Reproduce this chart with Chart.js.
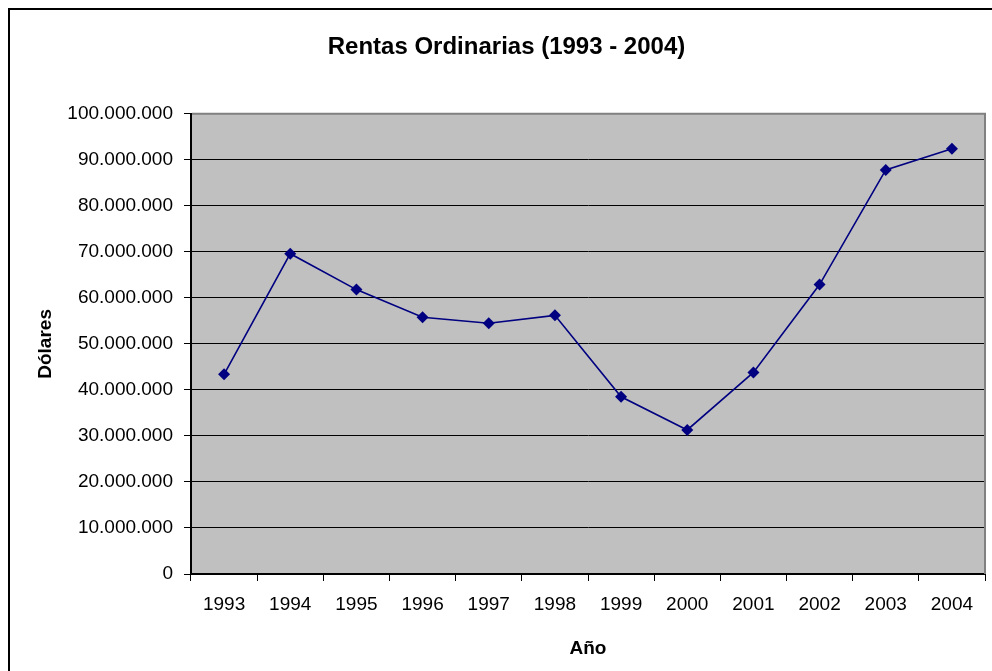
<!DOCTYPE html>
<html>
<head>
<meta charset="utf-8">
<script src="https://cdn.jsdelivr.net/npm/chart.js@4"></script>
<style>
  body { margin: 0; background: #fff; }
  canvas { display: block; }
</style>
</head>
<body>
<canvas id="chart" width="992" height="671"></canvas>
<script>
const years = ["1993", "1994", "1995", "1996", "1997", "1998", "1999", "2000", "2001", "2002", "2003", "2004"];
const rentas = [43400000, 69600000, 61800000, 55800000, 54500000, 56200000, 38500000, 31300000, 43800000, 62900000, 87800000, 92400000];
const yTicks = [0, 10000000, 20000000, 30000000, 40000000, 50000000, 60000000, 70000000, 80000000, 90000000, 100000000];

const FONT = '"Liberation Sans", Arial, sans-serif';

// 12.345.678 style
function miles(v) {
  return String(v).replace(/\B(?=(\d{3})+(?!\d))/g, ".");
}

// grey plot area, outer frame, grey top/right border
const excelLook = {
  id: "excelLook",
  beforeDraw(chart) {
    const { ctx, chartArea: a } = chart;
    ctx.save();
    ctx.fillStyle = "#c0c0c0";
    ctx.fillRect(a.left, a.top, a.right - a.left, a.bottom - a.top);
    ctx.strokeStyle = "#000";
    ctx.lineWidth = 2;
    ctx.strokeRect(9, 9, 1200, 1000);
    ctx.restore();
  },
  afterDraw(chart) {
    const { ctx, chartArea: a } = chart;
    ctx.save();
    ctx.strokeStyle = "#808080";
    ctx.lineWidth = 2;
    ctx.beginPath();
    ctx.moveTo(a.left + 1, a.top);
    ctx.lineTo(a.right, a.top);
    ctx.lineTo(a.right, a.bottom);
    ctx.stroke();
    ctx.restore();
  }
};

new Chart(document.getElementById("chart").getContext("2d"), {
  type: "line",
  data: {
    labels: years,
    datasets: [{
      label: "Rentas Ordinarias",
      data: rentas,
      borderColor: "#000080",
      backgroundColor: "#000080",
      borderWidth: 1.6,
      tension: 0,
      pointStyle: "rectRot",
      pointRadius: 6,
      pointBorderWidth: 0,
      pointBackgroundColor: "#000080"
    }]
  },
  options: {
    responsive: false,
    animation: false,
    layout: { padding: { left: 28, right: 7, top: 0, bottom: 0 } },
    plugins: {
      legend: { display: false },
      tooltip: { enabled: false },
      title: {
        display: true,
        text: "Rentas Ordinarias (1993 - 2004)",
        color: "#000",
        font: { family: FONT, size: 24, weight: "bold" },
        padding: { top: 33, bottom: 52 }
      }
    },
    scales: {
      x: {
        offset: true,
        afterFit(scale) { scale.height = 97; },
        grid: {
          offset: true,
          drawOnChartArea: false,
          drawTicks: true,
          tickLength: 7,
          color: "#000",
          lineWidth: 1
        },
        border: { color: "#000", width: 2 },
        ticks: {
          color: "#000",
          font: { family: FONT, size: 19 },
          padding: 12,
          maxRotation: 0,
          autoSkip: false
        },
        title: {
          display: true,
          text: "Año",
          color: "#000",
          font: { family: FONT, size: 19, weight: "bold" },
          padding: { top: 0, bottom: 11 }
        }
      },
      y: {
        min: 0,
        max: 100000000,
        afterFit(scale) { scale.width = 163; },
        afterBuildTicks(scale) { scale.ticks = yTicks.map(v => ({ value: v })); },
        grid: {
          color: "#000",
          lineWidth: 1,
          tickLength: 7
        },
        border: { color: "#000", width: 2 },
        ticks: {
          color: "#000",
          font: { family: FONT, size: 19 },
          padding: 11,
          callback: v => miles(v)
        },
        title: {
          display: true,
          text: "Dólares",
          color: "#000",
          font: { family: FONT, size: 19, weight: "bold" },
          padding: { top: 6, bottom: 0 }
        }
      }
    }
  },
  plugins: [excelLook]
});
</script>
</body>
</html>
